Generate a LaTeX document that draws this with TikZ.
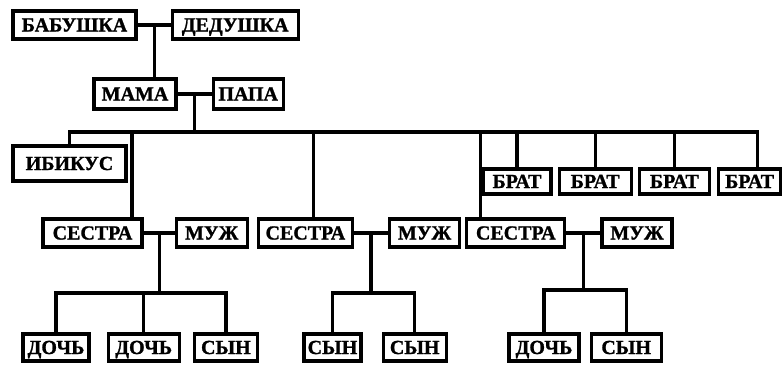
\documentclass[tikz,border=0pt]{standalone}
\usepackage{fontspec}
\setmainfont{Liberation Serif}[BoldFeatures={FakeBold=1.2}]
\usetikzlibrary{positioning,calc}

\tikzset{
  kin/.style={draw, line width=3.2pt, inner sep=2pt, minimum height=28pt, text height=13.5pt, text depth=0.5pt, font=\bfseries\fontsize{20}{22}\selectfont},
  tie/.style={line width=3.2pt},
}

\begin{document}
\begin{tikzpicture}[x=1pt, y=-1pt, node distance=35pt]
  \useasboundingbox (0,0) rectangle (784,364);
  \node[kin, minimum width=123pt] (bab) at (74.5,25) {БАБУШКА};
  \node[kin, minimum width=126pt, right=33pt of bab] (ded) {ДЕДУШКА};
  \node[kin, minimum width=82pt, minimum height=30pt] (mama) at (135,94) {МАМА};
  \node[kin, minimum width=70pt, minimum height=30pt, right=34pt of mama] (papa) {ПАПА};
  \node[kin, minimum width=113pt, minimum height=35pt] (ibi) at (69.5,163.5) {ИБИКУС};

  \node[kin, minimum width=68pt, minimum height=25pt] (brat1) at (517,181.5) {БРАТ};
  \node[kin, minimum width=72pt, minimum height=25pt, right=5pt of brat1] (brat2) {БРАТ};
  \node[kin, minimum width=70pt, minimum height=25pt, right=5pt of brat2] (brat3) {БРАТ};
  \node[kin, minimum width=62pt, minimum height=25pt, right=6pt of brat3] (brat4) {БРАТ};

  \node[kin, minimum width=99pt] (ses1) at (92.5,233) {СЕСТРА};
  \node[kin, minimum width=71pt, right=31pt of ses1] (muzh1) {МУЖ};
  \node[kin, minimum width=94pt, right=8pt of muzh1] (ses2) {СЕСТРА};
  \node[kin, minimum width=70pt, right=34pt of ses2] (muzh2) {МУЖ};
  \node[kin, minimum width=98pt, right=4pt of muzh2] (ses3) {СЕСТРА};
  \node[kin, minimum width=70pt, right=34pt of ses3] (muzh3) {МУЖ};

  \node[kin, minimum width=66pt, minimum height=27pt] (doch1) at (56,347.5) {ДОЧЬ};
  \node[kin, minimum width=71pt, minimum height=27pt, right=16pt of doch1] (doch2) {ДОЧЬ};
  \node[kin, minimum width=63pt, minimum height=27pt, right=12pt of doch2] (syn1) {СЫН};
  \node[kin, minimum width=57pt, minimum height=27pt] (syn2) at (332.5,347.5) {СЫН};
  \node[kin, minimum width=63pt, minimum height=27pt, right=19pt of syn2] (syn3) {СЫН};
  \node[kin, minimum width=70pt, minimum height=27pt] (doch3) at (544,347.5) {ДОЧЬ};
  \node[kin, minimum width=70pt, minimum height=27pt, right=9pt of doch3] (syn4) {СЫН};

  \coordinate (bus) at (0,132);
  \coordinate (kids1) at (0,293);
  \coordinate (kids2) at (0,293);
  \coordinate (kids3) at (0,290);

  \coordinate (gp) at ($(bab.east)!0.5!(ded.west)$);
  \coordinate (mp) at ($(mama.east)!0.5!(papa.west)$);
  \draw[tie] (bab.east) -- (ded.west);
  \draw[tie] (gp) -- (gp |- mama.north);
  \draw[tie] (mama.east) -- (papa.west);
  \draw[tie] (mp) -- (mp |- bus);

  \path ([xshift=8pt]brat4.north) coordinate (b4top);
  \draw[tie] (ibi.north) |- (b4top |- bus) -- (b4top);
  \foreach \b in {brat1,brat2,brat3}
    \draw[tie] (\b.north) -- (\b.north |- bus);
  \path ([xshift=39.5pt]ses1.north) coordinate (s1top)
        ([xshift=8pt]ses2.north) coordinate (s2top)
        ([xshift=-35pt]ses3.north) coordinate (s3top);
  \draw[tie] (s1top) -- (s1top |- bus);
  \draw[tie] (s2top) -- (s2top |- bus);
  \draw[tie] (s3top) -- (s3top |- bus);

  \coordinate (c1) at ($(ses1.east)!0.5!(muzh1.west)$);
  \coordinate (c2) at ($(ses2.east)!0.5!(muzh2.west)$);
  \coordinate (c3) at ($(ses3.east)!0.5!(muzh3.west)$);
  \draw[tie] (ses1.east) -- (muzh1.west);
  \draw[tie] (ses2.east) -- (muzh2.west);
  \draw[tie] (ses3.east) -- (muzh3.west);
  \draw[tie] (c1) -- (c1 |- kids1);
  \draw[tie] (c2) -- (c2 |- kids2);
  \draw[tie] (c3) -- (c3 |- kids3);

  \draw[tie] (doch1.north) |- (syn1.north |- kids1) -- (syn1.north);
  \draw[tie] (doch2.north) -- (doch2.north |- kids1);
  \draw[tie] (syn2.north) |- (syn3.north |- kids2) -- (syn3.north);
  \draw[tie] (doch3.north) |- (syn4.north |- kids3) -- (syn4.north);
\end{tikzpicture}
\end{document}
